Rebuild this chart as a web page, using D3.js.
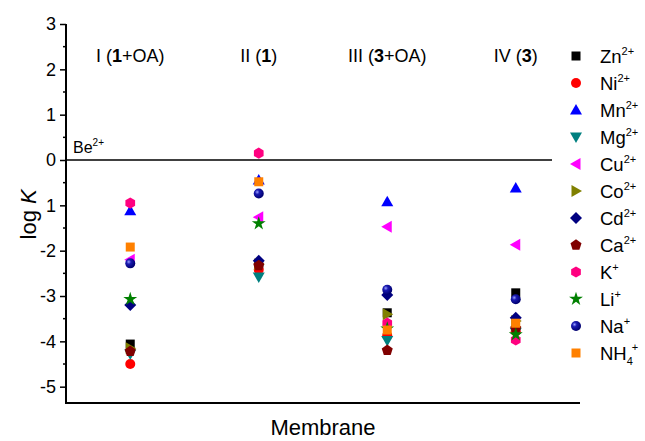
<!DOCTYPE html>
<html>
<head>
<meta charset="utf-8">
<script src="https://cdn.jsdelivr.net/npm/d3@7"></script>
<style>
  body { margin: 0; background: #fff; }
  text { font-family: "Liberation Sans", Arial, sans-serif; fill: #000; }
</style>
</head>
<body>
<div id="chart"></div>
<script>
// membranes (x categories)
var membranes = ['I', 'II', 'III', 'IV']

// log K values per ion, one value per membrane (I, II, III, IV)
var zn   = [-4.06, -2.30, -3.37, -2.93]
var ni   = [-4.50, -2.42, -3.87, -3.78]
var mn   = [-1.12, -0.44, -0.92, -0.62]
var mg   = [-4.28, -2.58, -3.98, -3.80]
var cu   = [-2.20, -1.26, -1.47, -1.87]
var co   = [-4.15, -2.30, -3.40, -3.55]
var cd   = [-3.20, -2.22, -2.98, -3.48]
var ca   = [-4.22, -2.33, -4.20, -3.72]
var k    = [-0.95,  0.15, -3.60, -3.97]
var li   = [-3.07, -1.40, -3.72, -3.85]
var na   = [-2.28, -0.74, -2.86, -3.07]
var nh4  = [-1.92, -0.48, -3.75, -3.60]

var yTicks = [3, 2, 1, 0, -1, -2, -3, -4, -5]
var yTickLabels = ['3', '2', '1', '0', '1', '-2', '-3', '-4', '-5']

var series = [
  {name: 'Zn', sup: '2+', values: zn,  color: '#000000', shape: 'square'},
  {name: 'Ni', sup: '2+', values: ni,  color: '#ff0000', shape: 'circle'},
  {name: 'Mn', sup: '2+', values: mn,  color: '#0000ff', shape: 'up'},
  {name: 'Mg', sup: '2+', values: mg,  color: '#008080', shape: 'down'},
  {name: 'Cu', sup: '2+', values: cu,  color: '#ff00ff', shape: 'left'},
  {name: 'Co', sup: '2+', values: co,  color: '#808000', shape: 'right'},
  {name: 'Cd', sup: '2+', values: cd,  color: '#000080', shape: 'diamond'},
  {name: 'Ca', sup: '2+', values: ca,  color: '#800000', shape: 'pentagon'},
  {name: 'K',  sup: '+',  values: k,   color: '#ff0080', shape: 'hexagon'},
  {name: 'Li', sup: '+',  values: li,  color: '#008000', shape: 'star'},
  {name: 'Na', sup: '+',  values: na,  color: '#0000a0', shape: 'sphere'},
  {name: 'NH', sub: '4', sup: '+', values: nh4, color: '#ff8000', shape: 'square'}
]

var width = 645, height = 441
var plotLeft = 66, plotRight = 580, plotTop = 24, plotBottom = 403

var svg = d3.select('#chart').append('svg')
  .attr('width', width).attr('height', height)

var defs = svg.append('defs')
var grad = defs.append('radialGradient').attr('id', 'ball')
  .attr('cx', '35%').attr('cy', '35%').attr('r', '65%')
grad.append('stop').attr('offset', '0%').attr('stop-color', '#9aa0ff')
grad.append('stop').attr('offset', '35%').attr('stop-color', '#1a1ab0')
grad.append('stop').attr('offset', '100%').attr('stop-color', '#000070')

var x = d3.scaleBand().domain(membranes).range([plotLeft, plotRight])
var y = d3.scaleLinear().domain([-5.36, 3]).range([plotBottom, plotTop])

function cx(i) { return x(membranes[i]) + x.bandwidth() / 2 }

function poly(n, r, rot) {
  var pts = []
  for (var i = 0; i < n; i++) {
    var a = rot + i * 2 * Math.PI / n
    pts.push([r * Math.cos(a), r * Math.sin(a)])
  }
  return 'M' + pts.map(function(p){ return p[0].toFixed(2) + ',' + p[1].toFixed(2) }).join('L') + 'Z'
}

function shapePath(shape) {
  switch (shape) {
    case 'square': return 'M-4.5,-4.5H4.5V4.5H-4.5Z'
    case 'up': return 'M0,-6L6,4.5L-6,4.5Z'
    case 'down': return 'M0,6L6,-4.5L-6,-4.5Z'
    case 'left': return 'M-6,0L4.5,-6L4.5,6Z'
    case 'right': return 'M6,0L-4.5,-6L-4.5,6Z'
    case 'diamond': return 'M0,-6L6,0L0,6L-6,0Z'
    case 'pentagon': return poly(5, 5.8, -Math.PI / 2)
    case 'hexagon': return poly(6, 5.6, -Math.PI / 2)
    case 'star': return d3.symbol(d3.symbolStar, 60)()
  }
}

function drawMarker(g, s, px, py) {
  if (s.shape === 'circle') {
    g.append('circle').attr('cx', px).attr('cy', py).attr('r', 5).attr('fill', s.color)
  } else if (s.shape === 'sphere') {
    g.append('circle').attr('cx', px).attr('cy', py).attr('r', 5).attr('fill', 'url(#ball)')
  } else {
    g.append('path').attr('d', shapePath(s.shape))
      .attr('transform', 'translate(' + px + ',' + py + ')')
      .attr('fill', s.color)
  }
}

// axes
var yAxis = svg.append('g').attr('transform', 'translate(' + plotLeft + ',0)')
  .call(d3.axisLeft(y).tickValues(yTicks).tickSize(6)
    .tickFormat(function(d, i){ return yTickLabels[i] }))
yAxis.select('.domain').remove()
yAxis.selectAll('text').attr('font-size', 18).attr('dx', -1)
  .style('font-family', '"Liberation Sans", Arial, sans-serif')
yAxis.selectAll('line').attr('stroke-width', 1.5)

var minor = d3.range(-4.5, 3, 1)
svg.append('g').selectAll('line').data(minor).enter().append('line')
  .attr('x1', plotLeft - 3).attr('x2', plotLeft)
  .attr('y1', function(d){ return y(d) }).attr('y2', function(d){ return y(d) })
  .attr('stroke', '#000').attr('stroke-width', 1.5)

svg.append('line').attr('x1', plotLeft).attr('x2', plotLeft).attr('y1', plotTop).attr('y2', plotBottom)
  .attr('stroke', '#000').attr('stroke-width', 2)
svg.append('line').attr('x1', plotLeft - 1).attr('x2', plotRight).attr('y1', plotBottom).attr('y2', plotBottom)
  .attr('stroke', '#000').attr('stroke-width', 2)

// zero reference line
svg.append('line').attr('x1', plotLeft).attr('x2', 552).attr('y1', y(0)).attr('y2', y(0))
  .attr('stroke', '#000').attr('stroke-width', 1.5)

var be = svg.append('text').attr('x', plotLeft + 7).attr('y', y(0) - 7).attr('font-size', 16)
be.append('tspan').text('Be')
be.append('tspan').attr('font-size', 10).attr('dy', -7).text('2+')

// column labels
var colLabels = [
  [['I (', false], ['1', true], ['+OA)', false]],
  [['II (', false], ['1', true], [')', false]],
  [['III (', false], ['3', true], ['+OA)', false]],
  [['IV (', false], ['3', true], [')', false]]
]
colLabels.forEach(function(parts, i) {
  var t = svg.append('text').attr('x', cx(i)).attr('y', 62)
    .attr('text-anchor', 'middle').attr('font-size', 18)
  parts.forEach(function(p) {
    t.append('tspan').attr('font-weight', p[1] ? 'bold' : 'normal').text(p[0])
  })
})

// points
var marks = svg.append('g')
series.forEach(function(s) {
  s.values.forEach(function(v, i) {
    drawMarker(marks, s, cx(i), y(v))
  })
})

// legend
var leg = svg.append('g')
series.forEach(function(s, i) {
  var ly = 56 + i * 27
  drawMarker(leg, s, 576, ly)
  var t = leg.append('text').attr('x', 600).attr('y', ly + 7).attr('font-size', 18.5)
  t.append('tspan').text(s.name)
  if (s.sub) {
    t.append('tspan').attr('font-size', 11).attr('dy', 5).text(s.sub)
    t.append('tspan').attr('font-size', 11).attr('dy', -14).attr('dx', -1).text(s.sup)
  } else {
    t.append('tspan').attr('font-size', 11).attr('dy', -8).text(s.sup)
  }
})

// axis titles
svg.append('text').attr('x', (plotLeft + plotRight) / 2).attr('y', 435)
  .attr('text-anchor', 'middle').attr('font-size', 22).text('Membrane')

var yl = svg.append('text').attr('transform', 'translate(36,' + y(-1.2) + ') rotate(-90)')
  .attr('text-anchor', 'middle').attr('font-size', 22)
yl.append('tspan').text('log ')
yl.append('tspan').attr('font-style', 'italic').text('K')
</script>
</body>
</html>
